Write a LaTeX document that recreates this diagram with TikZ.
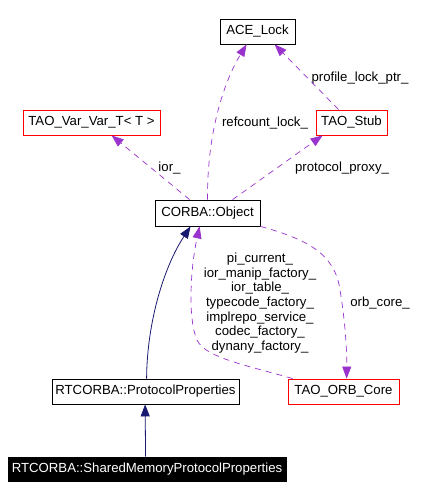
\documentclass[tikz,border=0pt]{standalone}
\usepackage{fontspec}
\setmainfont{Liberation Sans}
\usetikzlibrary{arrows.meta,calc}
\definecolor{edgepurple}{HTML}{9A32CD}
\definecolor{edgenavy}{HTML}{191970}
\tikzset{
  cls/.style={draw=black, line width=0.8pt, inner sep=0pt, minimum height=25pt, font=\fontsize{13.2}{14.6}\selectfont},
  redcls/.style={cls, draw=red},
  focuscls/.style={cls, fill=black, text=white},
  usage/.style={draw=edgepurple, line width=0.7pt, dash pattern=on 6pt off 5pt, -{Triangle[length=12pt,width=9pt]}},
  inherit/.style={draw=edgenavy, line width=0.8pt, -{Triangle[length=12pt,width=9pt]}},
  lbl/.style={inner sep=0pt, font=\fontsize{13.2}{14.6}\selectfont, align=center}
}
\begin{document}
\begin{tikzpicture}[x=1pt,y=-1pt]
\useasboundingbox (0,0) rectangle (435,499);
% nodes
\node[cls, minimum width=75pt] (ace) at (257.5,31.5) {ACE\_Lock};
\node[redcls, minimum width=137pt] (var) at (91.5,122.5) {TAO\_Var\_Var\_T< T >};
\node[redcls, minimum width=71pt] (stub) at (351.5,122.5) {TAO\_Stub};
\node[cls, minimum width=105pt, minimum height=26pt] (obj) at (207.5,213) {CORBA::Object};
\node[cls, minimum width=187pt] (pp) at (145.5,391.5) {RTCORBA::ProtocolProperties};
\node[redcls, minimum width=111pt] (orb) at (343.5,391.5) {TAO\_ORB\_Core};
\node[focuscls, minimum width=278pt, minimum height=24pt] (smpp) at (147,469) {RTCORBA::SharedMemoryProtocolProperties};
% labels
\node[lbl] (lprof) at (360,78) {profile\_lock\_ptr\_};
\node[lbl] (lref) at (265,123) {refcount\_lock\_};
\node[lbl] (lior) at (169.5,168) {ior\_};
\node[lbl] (lproto) at (342,168) {protocol\_proxy\_};
\node[lbl] (lmany) at (260,303) {pi\_current\_\\ior\_manip\_factory\_\\ior\_table\_\\typecode\_factory\_\\implrepo\_service\_\\codec\_factory\_\\dynany\_factory\_};
\node[lbl] (lorb) at (380,303) {orb\_core\_};
% edges
\draw[usage] (obj.north) .. controls (207,130) and (225,80) .. ($(ace.south west)+(27,0)$);
\draw[usage] ($(stub.north west)+(23,0)$) -- ($(ace.south west)+(55,0)$);
\draw[usage] ($(obj.north west)+(35,0)$) -- ($(var.south west)+(89,0)$);
\draw[usage] ($(obj.north west)+(78,0)$) -- ($(stub.south west)+(7,0)$);
\draw[usage] (obj.south east) .. controls (310,240) and (335,255) .. (340,290) .. controls (345,320) and (347,350) .. ($(orb.north west)+(59,0)$);
\draw[usage] ($(orb.north west)+(5,0)$) .. controls (250,366) and (205,358) .. (197,340) .. controls (188,320) and (190,270) .. ($(obj.south west)+(45,0)$);
\draw[inherit] ($(pp.north west)+(95,0)$) .. controls (147,320) and (165,265) .. ($(obj.south west)+(36,0)$);
\draw[inherit] ($(smpp.north west)+(138,0)$) -- ($(pp.south west)+(93.5,0)$);
\end{tikzpicture}
\end{document}
